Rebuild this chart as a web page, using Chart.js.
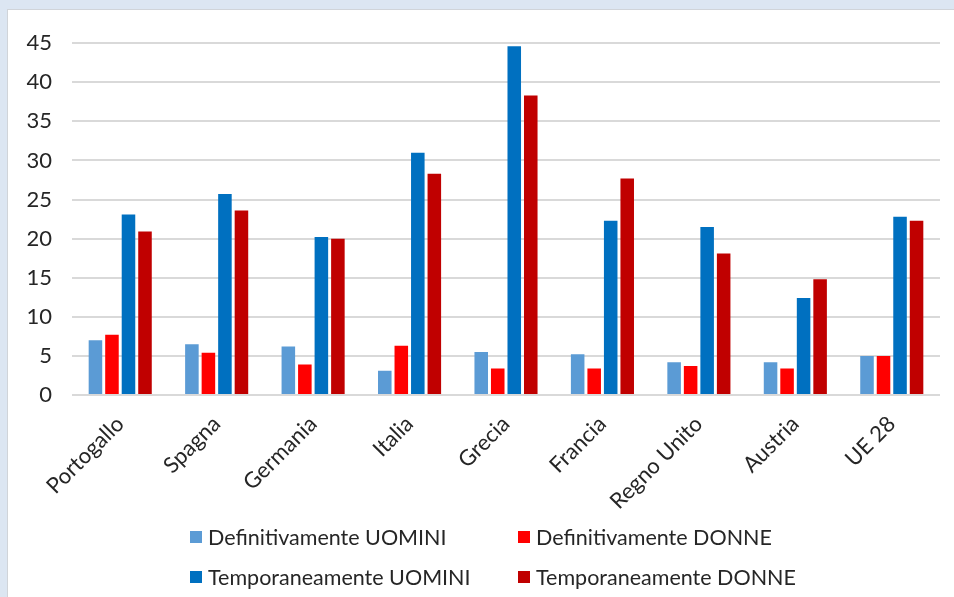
<!DOCTYPE html>
<html>
<head>
<meta charset="utf-8">
<script src="https://cdn.jsdelivr.net/npm/chart.js@4"></script>
<style>
    body { margin: 0; background: #dce6f2; width: 954px; height: 597px; overflow: hidden; font-family: Lato, "Open Sans", sans-serif; }
    #panel { position: absolute; left: 7px; top: 9px; width: 960px; height: 600px; background: #fff; border: 1px solid #d0d4d9; }
    #chart-box { position: absolute; left: 0; top: 0; width: 946px; height: 515px; }
    #legend { position: absolute; left: 182px; top: 514px; display: grid; grid-template-columns: 328px 300px; row-gap: 14px; }
    .item { display: flex; align-items: center; font-size: 21.5px; color: #262626; height: 26px; }
    .swatch { width: 12px; height: 12px; margin-right: 6px; }
</style>
</head>
<body>
<div id="panel">
    <div id="chart-box"><canvas id="barChart"></canvas></div>
    <div id="legend"></div>
</div>
<script>
const categories = ["Portogallo", "Spagna", "Germania", "Italia", "Grecia", "Francia", "Regno Unito", "Austria", "UE 28"];
const defUomini = [7.0, 6.5, 6.2, 3.1, 5.5, 5.2, 4.2, 4.2, 5.0];
const defDonne = [7.7, 5.4, 3.9, 6.3, 3.4, 3.4, 3.7, 3.4, 5.0];
const tempUomini = [23.1, 25.7, 20.2, 31.0, 44.6, 22.3, 21.5, 12.4, 22.8];
const tempDonne = [20.9, 23.6, 20.0, 28.3, 38.3, 27.7, 18.1, 14.8, 22.3];
const seriesNames = ["Definitivamente UOMINI", "Definitivamente DONNE", "Temporaneamente UOMINI", "Temporaneamente DONNE"];
const seriesColors = ["#5b9bd5", "#ff0000", "#0070c0", "#c00000"];
const yTicks = [0, 5, 10, 15, 20, 25, 30, 35, 40, 45];

const allValues = [defUomini, defDonne, tempUomini, tempDonne];

const datasets = allValues.map((vals, i) => ({
    label: seriesNames[i],
    data: vals,
    backgroundColor: seriesColors[i],
    borderWidth: 0,
    categoryPercentage: 0.685,
    barPercentage: 0.82,
}));

const chart = new Chart(document.getElementById("barChart"), {
    type: 'bar',
    data: { labels: categories, datasets: datasets },
    options: {
        responsive: true,
        maintainAspectRatio: false,
        animation: false,
        layout: { padding: { top: 29, right: 14, left: 0, bottom: 0 } },
        plugins: { legend: { display: false }, tooltip: { enabled: false } },
        scales: {
            x: {
                grid: { display: false },
                border: { display: false },
                ticks: {
                    minRotation: 45, maxRotation: 45, padding: 8,
                    color: '#262626',
                    font: { family: 'Lato', size: 22 },
                },
                afterFit: (scale) => { scale.height = 130; },
            },
            y: {
                min: 0, max: 45,
                afterBuildTicks: (scale) => { scale.ticks = yTicks.map(v => ({ value: v })); },
                grid: { color: '#d9d9d9', lineWidth: 2, drawTicks: false },
                border: { display: false },
                ticks: {
                    padding: 20,
                    color: '#262626',
                    font: { family: 'Lato', size: 22 },
                },
                afterFit: (scale) => { scale.width = 64; },
            },
        },
    },
});

// legend in two columns, like the original
const legendEl = document.getElementById("legend");
chart.data.datasets.forEach(ds => {
    const item = document.createElement("div");
    item.className = "item";
    item.innerHTML = '<span class="swatch" style="background:' + ds.backgroundColor + '"></span>' + ds.label;
    legendEl.appendChild(item);
});
</script>
</body>
</html>
